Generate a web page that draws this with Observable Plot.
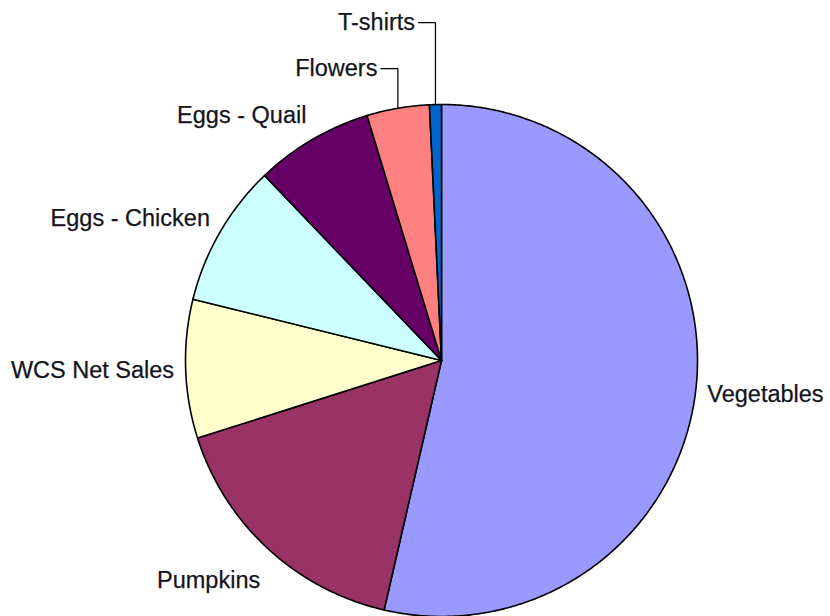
<!DOCTYPE html>
<html><head><meta charset="utf-8">
<script src="https://cdn.jsdelivr.net/npm/d3@7"></script>
<script src="https://cdn.jsdelivr.net/npm/@observablehq/plot@0.6"></script>
<style>body{margin:0;background:#fff;overflow:hidden}</style>
</head><body><div id="chart"></div>
<script>
// Data (share of sales, %), clockwise from 12 o'clock
const categories = ["Vegetables", "Pumpkins", "WCS Net Sales", "Eggs - Chicken", "Eggs - Quail", "Flowers", "T-shirts"];
const values = [53.6, 16.5, 8.75, 9.0, 7.45, 3.95, 0.75];
const colors = ["#9999FF", "#993366", "#FFFFCC", "#CCFFFF", "#660066", "#FF8080", "#0066CC"];

const total = d3.sum(values);
let acc = 0;
const slices = categories.map((name, i) => {
  const a0 = acc / total * 2 * Math.PI; acc += values[i];
  const a1 = acc / total * 2 * Math.PI;
  return {name, a0, a1, mid: (a0 + a1) / 2, frac: values[i] / total};
});

// slice outlines (unit circle, angle clockwise from top)
const poly = [];
for (const s of slices) {
  const n = Math.max(2, Math.ceil((s.a1 - s.a0) / (Math.PI / 360)));
  poly.push({name: s.name, x: 0, y: 0});
  for (let k = 0; k <= n; k++) {
    const a = s.a0 + (s.a1 - s.a0) * k / n;
    poly.push({name: s.name, x: Math.sin(a), y: Math.cos(a)});
  }
  poly.push({name: s.name, x: 0, y: 0});
}

// labels
const big = slices.filter(s => s.frac >= 0.05).map(s => {
  const c = Math.cos(s.mid);
  return {name: s.name, x: 1.045 * Math.sin(s.mid), y: 1.11 * c - 0.06 * Math.max(0, -c), right: Math.sin(s.mid) > 0};
});
const small = slices.filter(s => s.frac < 0.05).sort((a, b) => a.mid - b.mid);
const leaders = [], smallLabels = [];
small.forEach((s, k) => {
  const ly = 1.14 + 0.18 * k;
  const px = Math.sin(s.mid), py = Math.cos(s.mid);
  leaders.push({name: s.name, x: px, y: py}, {name: s.name, x: px, y: ly}, {name: s.name, x: px - 0.066, y: ly});
  smallLabels.push({name: s.name, x: px - 0.08, y: ly});
});

const font = {fontFamily: "'Liberation Sans', Arial, sans-serif", fontSize: 23.5, fill: "#141420", stroke: "#141420", strokeWidth: 0.25};

const chart = Plot.plot({
  width: 830, height: 616,
  x: {domain: [-1, 1], range: [185, 697], axis: null},
  y: {domain: [-1, 1], range: [616, 104], axis: null},
  color: {domain: categories, range: colors},
  style: {background: "#fff"},
  marks: [
    Plot.line(poly, {x: "x", y: "y", z: "name", fill: "name", stroke: "#000", strokeWidth: 1.6, strokeLinejoin: "round", curve: "linear"}),
    Plot.line(leaders, {x: "x", y: "y", z: "name", stroke: "#000", strokeWidth: 1.2}),
    Plot.text(big.filter(d => d.right), {x: "x", y: "y", text: "name", textAnchor: "start", ...font}),
    Plot.text(big.filter(d => !d.right), {x: "x", y: "y", text: "name", textAnchor: "end", ...font}),
    Plot.text(smallLabels, {x: "x", y: "y", text: "name", textAnchor: "end", ...font})
  ]
});
document.getElementById("chart").append(chart);
</script>
</body></html>
